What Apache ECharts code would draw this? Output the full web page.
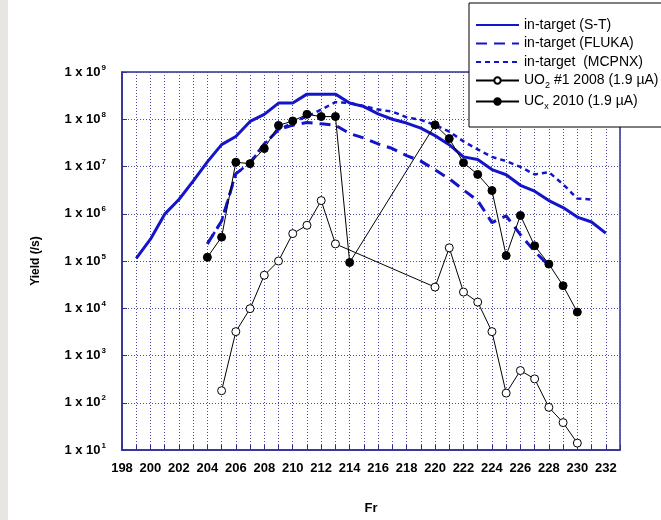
<!DOCTYPE html>
<html><head><meta charset="utf-8">
<script src="https://cdn.jsdelivr.net/npm/echarts@6/dist/echarts.min.js"></script>
<style>html,body{margin:0;padding:0;background:#fff}#c{width:661px;height:520px}</style>
</head><body><div id="c"></div>
<script>
// ---- data ----
const massST = [199,200,201,202,203,204,205,206,207,208,209,210,211,212,213,214,215,216,217,218,219,220,221,222,223,224,225,226,227,228,229,230,231,232];
const yieldST = [1.14e5,2.9e5,9.8e5,2e6,4.9e6,1.25e7,2.9e7,4.3e7,9e7,1.27e8,2.2e8,2.2e8,3.4e8,3.4e8,3.4e8,2.2e8,1.85e8,1.3e8,1e8,8.3e7,6.5e7,4.5e7,2.9e7,1.6e7,1.4e7,8.6e6,6.7e6,4e6,3e6,1.9e6,1.35e6,8.5e5,6.7e5,3.9e5];

const massFLUKA = [204,205,206,207,208,209,210,211,212,213,214,215,216,217,218,219,220,221,222,223,224,225,226,227,228];
const yieldFLUKA = [2.3e5,7e5,7e6,1.2e7,3e7,6e7,7.5e7,8.5e7,8e7,7.5e7,5e7,4e7,3e7,2.4e7,1.7e7,1.3e7,8.5e6,5.5e6,3.2e6,1.9e6,6.5e5,9e5,3.6e5,1.6e5,8e4];

const massMCPNX = [204,205,206,207,208,209,210,211,212,213,214,215,216,217,218,219,220,221,222,223,224,225,226,227,228,229,230,231];
const yieldMCPNX = [2.3e5,7e5,7e6,1.2e7,3e7,6e7,8.5e7,1.15e8,1.6e8,2.3e8,2.2e8,1.9e8,1.6e8,1.45e8,1.1e8,9.7e7,7.6e7,5.5e7,3.4e7,2.3e7,1.6e7,1.3e7,9.8e6,6.8e6,7.6e6,4.2e6,2.1e6,2e6];

const massUO2 = [205,206,207,208,209,210,211,212,213,220,221,222,223,224,225,226,227,228,229,230];
const yieldUO2 = [180,3200,9800,5e4,1e5,3.8e5,5.7e5,1.9e6,2.3e5,2.8e4,1.9e5,2.2e4,1.35e4,3.2e3,160,480,320,80,38,14];

const massUCx = [204,205,206,207,208,209,210,211,212,213,214,220,221,222,223,224,225,226,227,228,229,230];
const yieldUCx = [1.2e5,3.2e5,1.23e7,1.15e7,2.4e7,7.4e7,9.2e7,1.27e8,1.14e8,1.14e8,9.3e4,7.6e7,3.9e7,1.2e7,6.8e6,3.1e6,1.3e5,9.2e5,2.1e5,8.6e4,3e4,8.3e3];

const seriesNames = ['in-target (S-T)','in-target (FLUKA)','in-target  (MCPNX)','UO2 #1 2008 (1.9 µA)','UCx 2010 (1.9 µA)'];

const pairs = (xs, ys) => xs.map((x, i) => [x, ys[i]]);
const FONT = 'Liberation Sans, Arial, sans-serif';
const BLUE = '#1414c8';
const AXIS = '#2e2e96';

const chart = echarts.init(document.getElementById('c'), null, {renderer: 'canvas'});
chart.setOption({
  animation: false,
  backgroundColor: '#ffffff',
  graphic: [{type: 'rect', left: 0, top: 0, shape: {width: 8, height: 520}, style: {fill: '#e8e6e3'}, silent: true}],
  grid: {left: 122, right: 41, top: 72, bottom: 68, show: true, borderColor: AXIS, borderWidth: 1.5, backgroundColor: 'transparent'},
  legend: {
    orient: 'vertical', left: 469, top: 3,
    backgroundColor: '#fff', borderColor: '#000', borderWidth: 1, borderRadius: 0,
    padding: [15, 6, 16, 6], itemGap: 4.5, itemWidth: 43, itemHeight: 8,
    data: [
      {name: seriesNames[0], itemStyle: {opacity: 0}},
      {name: seriesNames[1], itemStyle: {opacity: 0}},
      {name: seriesNames[2], itemStyle: {opacity: 0}},
      {name: seriesNames[3]},
      {name: seriesNames[4]}
    ],
    formatter: function (n) {
      if (n.indexOf('UO2') === 0) return '{n|UO}{s|2}{n| #1 2008 (1.9 µA)}';
      if (n.indexOf('UCx') === 0) return '{n|UC}{s|x}{n| 2010 (1.9 µA)}';
      return '{n|' + n + '}';
    },
    textStyle: {
      fontFamily: FONT, fontSize: 14, color: '#000',
      rich: {
        n: {fontFamily: FONT, fontSize: 14, color: '#000', lineHeight: 16},
        s: {fontFamily: FONT, fontSize: 9, color: '#000', padding: [10, 0, 0, 0]}
      }
    }
  },
  xAxis: {
    type: 'value', min: 198, max: 233, interval: 1,
    name: 'Fr', nameLocation: 'middle', nameGap: 52,
    nameTextStyle: {fontFamily: FONT, fontSize: 13, fontWeight: 'bold', color: '#000'},
    axisLine: {show: true, lineStyle: {color: AXIS, width: 1.5}},
    axisTick: {show: true, inside: true, length: 5, lineStyle: {color: AXIS}},
    splitLine: {show: true, lineStyle: {color: '#4a4aa6', type: [1, 2], width: 1}},
    axisLabel: {
      margin: 12, fontFamily: FONT, fontSize: 13, fontWeight: 'bold', color: '#000',
      formatter: v => (v % 2 === 0 && v <= 232) ? String(v) : ''
    }
  },
  yAxis: {
    type: 'log', logBase: 10, min: 10, max: 1e9, splitNumber: 8,
    name: 'Yield (/s)', nameLocation: 'middle', nameGap: 80, nameRotate: 90,
    nameTextStyle: {fontFamily: FONT, fontSize: 12, fontWeight: 'bold', color: '#000'},
    axisLine: {show: true, lineStyle: {color: AXIS, width: 1.5}},
    axisTick: {show: true, inside: true, length: 5, lineStyle: {color: AXIS}},
    splitLine: {show: true, lineStyle: {color: '#4a4aa6', type: [1, 2], width: 1}},
    axisLabel: {
      margin: 16,
      formatter: v => '{a|1 x 10}{b|' + Math.round(Math.log10(v)) + '}',
      rich: {
        a: {fontFamily: FONT, fontSize: 13, fontWeight: 'bold', color: '#000'},
        b: {fontFamily: FONT, fontSize: 8, fontWeight: 'bold', color: '#000', padding: [0, 0, 9, 1]}
      }
    }
  },
  series: [
    {name: seriesNames[0], type: 'line', data: pairs(massST, yieldST), showSymbol: false, symbol: 'none',
     lineStyle: {color: BLUE, width: 3}, itemStyle: {color: BLUE}, z: 2},
    {name: seriesNames[1], type: 'line', data: pairs(massFLUKA, yieldFLUKA), showSymbol: false, symbol: 'none',
     lineStyle: {color: BLUE, width: 3, type: [11, 7]}, itemStyle: {color: BLUE}, z: 2},
    {name: seriesNames[2], type: 'line', data: pairs(massMCPNX, yieldMCPNX), showSymbol: false, symbol: 'none',
     lineStyle: {color: BLUE, width: 2.5, type: [5, 4]}, itemStyle: {color: BLUE}, z: 2},
    {name: seriesNames[3], type: 'line', data: pairs(massUO2, yieldUO2), symbol: 'circle', symbolSize: 8,
     lineStyle: {color: '#000', width: 1}, itemStyle: {color: '#fff', borderColor: '#000', borderWidth: 1}, z: 3},
    {name: seriesNames[4], type: 'line', data: pairs(massUCx, yieldUCx), symbol: 'circle', symbolSize: 8,
     lineStyle: {color: '#000', width: 1}, itemStyle: {color: '#000', borderColor: '#000', borderWidth: 1}, z: 3}
  ]
});
</script></body></html>
